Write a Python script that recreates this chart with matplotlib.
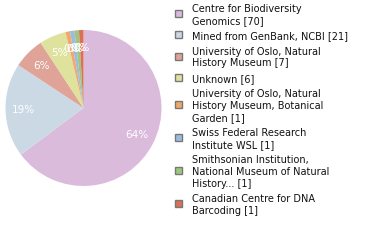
import math
import matplotlib
matplotlib.use('Agg')
import matplotlib.pyplot as plt
from matplotlib.patches import Rectangle

## Data
labels = ['Centre for Biodiversity\nGenomics [70]',
          'Mined from GenBank, NCBI [21]',
          'University of Oslo, Natural\nHistory Museum [7]',
          'Unknown [6]',
          'University of Oslo, Natural\nHistory Museum, Botanical\nGarden [1]',
          'Swiss Federal Research\nInstitute WSL [1]',
          'Smithsonian Institution,\nNational Museum of Natural\nHistory... [1]',
          'Canadian Centre for DNA\nBarcoding [1]']
counts = [70, 21, 7, 6, 1, 1, 1, 1]
colors = ['#dbbbdc', '#cbd9e5', '#dfa398', '#dee29d',
          '#f2a76b', '#9dbcdd', '#9ec67c', '#dd6f55']

W, H = 380, 240
fig = plt.figure(figsize=(W / 100, H / 100), dpi=100)

## Pie (percentages are truncated in the original, 64.8 -> 64)
def pct(p):
    return '%d%%' % math.floor(p + 1e-9)

ax = fig.add_axes([5.5 / W, 1 - 186.0 / H, 156 / W, 156 / H])
wedges, texts, autotexts = ax.pie(counts, colors=colors, startangle=90,
                                  counterclock=False, autopct=pct,
                                  pctdistance=0.77,
                                  wedgeprops=dict(linewidth=0),
                                  textprops=dict(color='white', fontsize=7.5,
                                                 family='DejaVu Sans'))
ax.set_xlim(-1, 1)
ax.set_ylim(-1, 1)
ax.set_aspect('equal')
ax.axis('off')

## Legend drawn by hand (pixel layout, y from top)
line_step = 11.7
entry_gap = 15.4
y = 9.3
for lab, c in zip(labels, colors):
    lines = lab.split('\n')
    ys = [y + i * line_step for i in range(len(lines))]
    for ln, yy in zip(lines, ys):
        fig.text(192 / W, 1 - yy / H, ln, fontsize=7, family='DejaVu Sans',
                 color='#111111', va='center', ha='left')
    yc = (ys[0] + ys[-1]) / 2 - 1.5
    fig.patches.append(Rectangle((174.5 / W, 1 - (yc + 3.5) / H), 7 / W, 7 / H,
                                 transform=fig.transFigure, facecolor=c,
                                 edgecolor='#777777', linewidth=1))
    y = ys[-1] + entry_gap

fig.savefig('out.png', dpi=100)
